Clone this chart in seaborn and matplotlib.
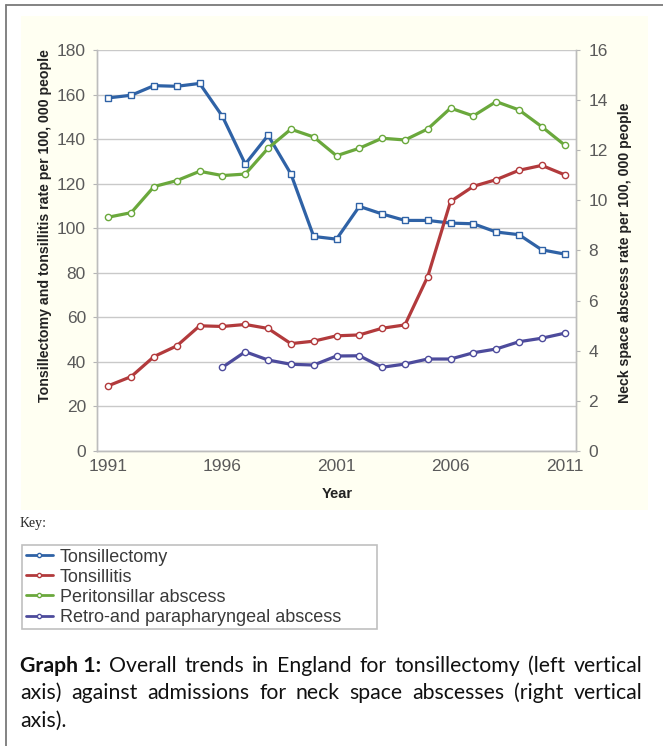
import numpy as np
import pandas as pd
import matplotlib
matplotlib.use("Agg")
import matplotlib.pyplot as plt
from matplotlib.lines import Line2D
from matplotlib.patches import Rectangle
import seaborn as sns

sns.set_style("white")
plt.rcParams["font.family"] = ["Liberation Sans", "DejaVu Sans"]

# ── Data ──────────────────────────────────────────────────────────────────────
years = list(range(1991, 2012))
tonsillectomy = [158.5, 159.7, 164.0, 163.7, 165.0, 150.2, 128.8, 141.7, 124.4, 96.3, 95.1,
                 109.8, 106.4, 103.5, 103.5, 102.3, 102.0, 98.3, 97.1, 90.3, 88.4]
tonsillitis = [29.3, 33.4, 42.4, 47.2, 56.2, 55.9, 56.8, 55.0, 48.2, 49.3, 51.7,
               52.1, 55.1, 56.6, 78.3, 112.0, 118.8, 121.8, 126.0, 128.2, 124.0]
peritonsillar = [9.33, 9.51, 10.55, 10.79, 11.16, 10.99, 11.05, 12.08, 12.84, 12.53, 11.78,
                 12.08, 12.48, 12.41, 12.85, 13.68, 13.37, 13.94, 13.61, 12.94, 12.21]
retro_years = list(range(1996, 2012))
retro = [3.34, 3.96, 3.63, 3.46, 3.43, 3.79, 3.80, 3.34, 3.47, 3.67, 3.67,
         3.92, 4.07, 4.36, 4.50, 4.70]

labels = ["Tonsillectomy", "Tonsillitis", "Peritonsillar abscess",
          "Retro-and parapharyngeal abscess"]
colors = ["#2f62a6", "#b23a3c", "#6aa83c", "#4d4b9c"]

left_df = pd.DataFrame({"year": years, "tonsillectomy": tonsillectomy, "tonsillitis": tonsillitis})
right_df = pd.DataFrame({"year": years, "peritonsillar": peritonsillar})
retro_df = pd.DataFrame({"year": retro_years, "retro": retro})

W, H = 663, 746
fig = plt.figure(figsize=(W / 100, H / 100), dpi=100)


def fx(px):
    return px / W


def fy(py):
    return 1 - py / H


# page frame and the pale yellow panel behind the chart
fig.add_artist(Line2D([fx(6), fx(6)], [fy(5), 0], color="#7a7a7a", lw=1.3))
fig.add_artist(Line2D([fx(6), 1], [fy(5), fy(5)], color="#7a7a7a", lw=1.3))
fig.add_artist(Rectangle((fx(21), fy(510)), fx(648 - 21), (510 - 16) / H,
                         facecolor="#fffff2", edgecolor="none", zorder=0))

ax = fig.add_axes([fx(97), fy(451), fx(576 - 97), (451 - 50) / H])
ax.set_facecolor("white")
ax2 = ax.twinx()

line_kw = dict(lw=2.3, markersize=4.5, markerfacecolor="white", markeredgewidth=1.0)
sns.lineplot(data=left_df, x="year", y="tonsillectomy", ax=ax, color=colors[0],
             marker="s", markeredgecolor=colors[0], zorder=3, **line_kw)
sns.lineplot(data=left_df, x="year", y="tonsillitis", ax=ax, color=colors[1],
             marker="o", markeredgecolor=colors[1], zorder=3, **line_kw)
sns.lineplot(data=right_df, x="year", y="peritonsillar", ax=ax2, color=colors[2],
             marker="o", markeredgecolor=colors[2], zorder=3, **line_kw)
sns.lineplot(data=retro_df, x="year", y="retro", ax=ax2, color=colors[3],
             marker="o", markeredgecolor=colors[3], zorder=3, **line_kw)

ax.set_xlim(1990.5, 2011.5)
ax.set_ylim(0, 180)
ax2.set_ylim(0, 16)
ax.set_yticks(np.arange(0, 181, 20))
ax2.set_yticks(np.arange(0, 17, 2))
ax.set_xticks([1991, 1996, 2001, 2006, 2011])
ax.set_xticks(np.arange(1991.5, 2011, 1), minor=True)
ax.grid(axis="y", color="#c9c9c9", lw=1.0)
ax.set_axisbelow(True)

tick_col = "#5a5a5a"
ax.tick_params(axis="y", length=3, color="#b5b5b5", labelsize=12.5, labelcolor=tick_col, pad=5)
ax2.tick_params(axis="y", length=3, color="#b5b5b5", labelsize=12.5, labelcolor=tick_col, pad=6)
ax.tick_params(axis="x", which="major", length=0, labelsize=12.5, labelcolor=tick_col, pad=6)
ax.tick_params(axis="x", which="minor", length=3, color="#b5b5b5")

for a in (ax, ax2):
    a.set_xlabel("")
    a.set_ylabel("")
    a.spines["top"].set_visible(False)
    for s in ("left", "right", "bottom"):
        a.spines[s].set_color("#bdbdbd")
        a.spines[s].set_linewidth(1.0)

fig.text(fx(45), fy(226), "Tonsillectomy and tonsillitis rate per 100, 000 people",
         rotation=90, ha="center", va="center", fontsize=10.2, fontweight="bold", color="#222222")
fig.text(fx(625), fy(253), "Neck space abscess rate per 100, 000 people",
         rotation=90, ha="center", va="center", fontsize=10.2, fontweight="bold", color="#222222")
fig.text(fx(337), fy(494), "Year", ha="center", va="center", fontsize=10.5,
         fontweight="bold", color="#222222")

# key
fig.text(fx(20), fy(523), "Key:", ha="left", va="center", fontsize=10,
         family=["Liberation Serif", "DejaVu Serif"])
handles = [Line2D([], [], color=c, lw=2.0, marker="o", markersize=3,
                  markerfacecolor="white", markeredgecolor=c) for c in colors]
leg = fig.legend(handles, labels, loc="upper left", mode="expand",
                 bbox_to_anchor=(fx(22), fy(630), fx(377 - 22), (630 - 545) / H),
                 frameon=True, fancybox=False, edgecolor="#b0b0b0", fontsize=13,
                 handlelength=1.5, handletextpad=0.4, labelspacing=0.17,
                 borderpad=0.2, borderaxespad=0)
for t in leg.get_texts():
    t.set_color("#3a3a3a")
leg.get_frame().set_linewidth(1.2)

# caption, justified between x0 and x1
cap_font = ["Lato", "DejaVu Sans"]
cap_lines = [
    [("Graph 1:", "bold"), ("Overall", "normal"), ("trends", "normal"), ("in", "normal"),
     ("England", "normal"), ("for", "normal"), ("tonsillectomy", "normal"),
     ("(left", "normal"), ("vertical", "normal")],
    [(w, "normal") for w in "axis) against admissions for neck space abscesses (right vertical".split()],
    [("axis).", "normal")],
]
cap_y = [666, 693, 721]
x0, x1 = 20, 642
renderer = fig.canvas.get_renderer()
for i, (words, yy) in enumerate(zip(cap_lines, cap_y)):
    texts = [fig.text(0, fy(yy), w, fontsize=15.3, fontweight=wt, family=cap_font,
                      ha="left", va="center", color="#111111") for w, wt in words]
    widths = [t.get_window_extent(renderer).width for t in texts]
    if len(texts) > 1 and i < len(cap_lines) - 1:
        gap = (x1 - x0 - sum(widths)) / (len(texts) - 1)
    else:
        gap = 5
    x = x0
    for t, w in zip(texts, widths):
        t.set_x(fx(x))
        x += w + gap

fig.savefig("out.png", dpi=100)
